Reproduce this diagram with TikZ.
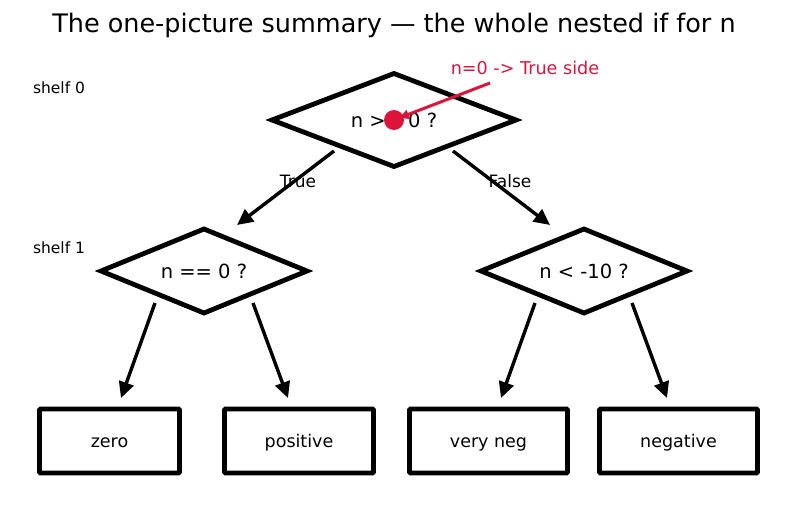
\documentclass[tikz,border=0pt]{standalone}
\usepackage{fontspec}
\setmainfont{DejaVu Sans}
\usetikzlibrary{shapes.geometric,arrows.meta,calc}
\definecolor{crim}{HTML}{DC143C}
\tikzset{
  dec/.style={draw=black, line width=4.8pt, diamond, aspect=2.6, inner sep=0pt, line join=miter,
    font=\fontsize{19.5}{22}\selectfont},
  leaf/.style={draw=black, line width=4.8pt, rectangle, minimum height=64pt,
    rounded corners=1pt, text height=12pt, text depth=0pt, font=\fontsize{17.5}{20}\selectfont},
  arr/.style={line width=3.4pt, -{Triangle[length=16pt,width=15pt]}},
  lbl/.style={font=\fontsize{17}{20}\selectfont, inner sep=0pt},
  shelf/.style={font=\fontsize{15.5}{18}\selectfont, inner sep=0pt},
  annarr/.style={draw=crim, line width=3pt, -{Triangle[length=10pt,width=9pt]}},
}
\begin{document}
\begin{tikzpicture}[x=1pt,y=-1pt]
\useasboundingbox (0,0) rectangle (787,512);
\node[font=\fontsize{25.5}{30}\selectfont, inner sep=0pt] (title) at (394,25) {The one-picture summary — the whole nested if for n};
\node[shelf] (s0) at (59,88) {shelf 0};
\node[shelf] (s1) at (59,248) {shelf 1};

\node[dec, minimum width=246pt, minimum height=95pt] (top) at (394,120) {n >= 0 ?};
\node[dec, minimum width=208pt, minimum height=86pt] (dl) at (204,271) {n == 0 ?};
\node[dec, minimum width=208pt, minimum height=86pt] (dr) at (584,271) {n < -10 ?};

\node[leaf, minimum width=140pt] (zero) at (109.5,441) {zero};
\node[leaf, minimum width=149pt] (pos) at (299,441) {positive};
\node[leaf, minimum width=158pt] (vneg) at (488.5,441) {very neg};
\node[leaf, minimum width=158pt] (neg) at (678.5,441) {negative};

\draw[arr] ($(top)+(-60,31)$) -- ($(dl)+(33,-46)$);
\draw[arr] ($(top)+(59,31)$) -- ($(dr)+(-34,-46)$);
\draw[arr] ($(dl)+(-49,32)$) -- ($(zero)+(11.5,-43)$);
\draw[arr] ($(dl)+(49,32)$) -- ($(pos)+(-11,-43)$);
\draw[arr] ($(dr)+(-49,32)$) -- ($(vneg)+(12.5,-43)$);
\draw[arr] ($(dr)+(48,32)$) -- ($(neg)+(-11.5,-43)$);

\node[lbl] (t) at (298,181) {True};
\node[lbl] (f) at (510,181) {False};

\node[circle, fill=crim, minimum size=20pt, inner sep=0pt] (dot) at (394,120) {};
\node[lbl, text=crim, font=\fontsize{17.6}{21}\selectfont] (ann) at (525,68) {n=0 -> True side};
\coordinate (annst) at ($(ann)+(-35,15)$);
\draw[annarr] (annst) -- ($(dot)+(5,-2)$);
\end{tikzpicture}
\end{document}
